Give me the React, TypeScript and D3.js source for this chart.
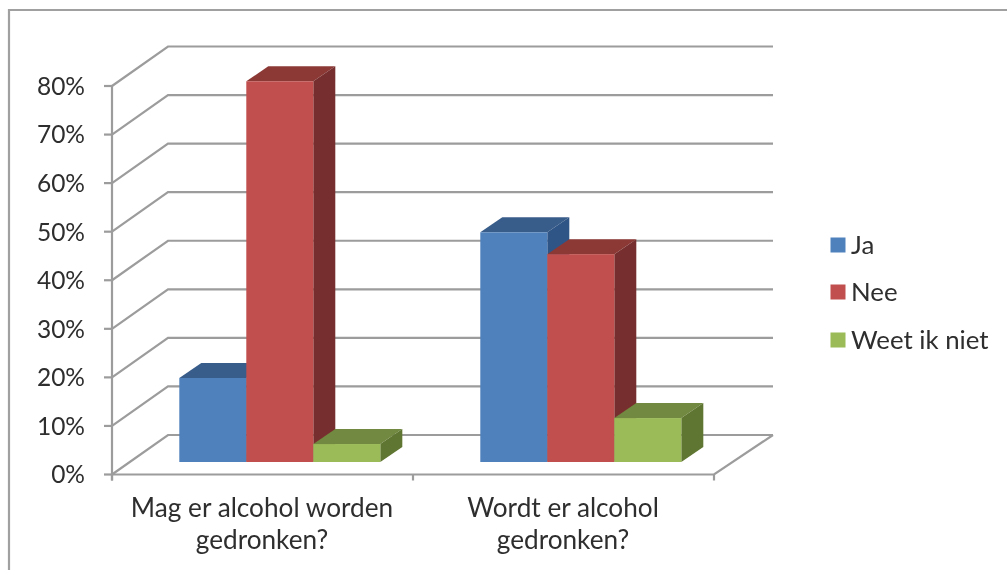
import React from "react";
import * as d3 from "d3";

const categories = [["Mag er alcohol worden", "gedronken?"], ["Wordt er alcohol", "gedronken?"]];
const seriesNames = ["Ja", "Nee", "Weet ik niet"];
const ja = [17.3, 47.3];
const nee = [78.4, 42.8];
const weetIkNiet = [3.7, 9.05];
const yTicks = [0, 10, 20, 30, 40, 50, 60, 70, 80];
const front = ["#4f81bd", "#c0504d", "#9bbb59"];
const top = ["#385d8a", "#8c3836", "#71893f"];
const side = ["#2f5585", "#772f2d", "#5f7530"];

const W = 1007, H = 570;
const left = 112, right = 714, y0 = 474.5, y80 = 86;
const wallDx = 56, wallDy = -39.5;
const barDx = 17.3, barDy = -12.5, depthDx = 22, depthDy = -15;
const axis = "#9c9c9c";
const text = "#2e2e2e";

export default function App() {
  const y = d3.scaleLinear().domain([0, 80]).range([y0, y80]);
  const x = d3.scaleBand<number>().domain([0, 1]).range([left + barDx, right + barDx]);
  const groupPad = 50;
  const inner = d3.scaleBand<number>().domain([0, 1, 2]).range([0, x.bandwidth() - 2 * groupPad]);
  const series = [ja, nee, weetIkNiet];
  const pts = (p: number[][]) => d3.line()(p as [number, number][]) + "Z";
  const legendY = [245, 292, 340];
  const bars: { s: number; c: number; v: number }[] = [];
  [0, 1].forEach((c) => [0, 1, 2].forEach((s) => bars.push({ s, c, v: series[s][c] })));
  const catTicks = [left, left + (right - left) / 2, right];

  return (
    <svg width={W} height={H} viewBox={`0 0 ${W} ${H}`} style={{ position: "fixed", left: 0, top: 0, background: "#fff" }}
      fontFamily="Lato, Carlito, sans-serif">
      <defs>
        <filter id="soft" x="-5%" y="-5%" width="110%" height="110%"><feGaussianBlur stdDeviation="0.5" /></filter>
      </defs>
      <g filter="url(#soft)">
        <path d={`M9 570V10H1007`} fill="none" stroke="#a0a0a0" strokeWidth={2.2} />
        {yTicks.map((t) => (
          <g key={t}>
            <path d={`M${left} ${y(t)}L${left + wallDx} ${y(t) + wallDy}H773`} fill="none" stroke={axis} strokeWidth={2.2} />
            <line x1={left - 8} x2={left} y1={y(t)} y2={y(t)} stroke={axis} strokeWidth={2.2} />
            <text x={85} y={y(t)} dy="0.36em" textAnchor="end" fontSize={24.5} fill={text}>{t}%</text>
          </g>
        ))}
        <line x1={left} x2={left} y1={y80} y2={y0 + 6} stroke={axis} strokeWidth={2.2} />
        <path d={`M${left} ${y0}H${right}L773 ${y0 + wallDy}`} fill="none" stroke={axis} strokeWidth={2.2} />
        {catTicks.map((t) => <line key={t} x1={t} x2={t} y1={y0} y2={y0 + 6} stroke={axis} strokeWidth={2.2} />)}
        {bars.map(({ s, c, v }) => {
          const xl = x(c)! + groupPad + inner(s)!;
          const xr = xl + inner.bandwidth();
          const yb = y(0) + barDy;
          const yt = y(v) + barDy;
          return (
            <g key={`${c}-${s}`}>
              <path d={pts([[xl, yt], [xl + depthDx, yt + depthDy], [xr + depthDx, yt + depthDy], [xr, yt]])} fill={top[s]} />
              <path d={pts([[xr, yt], [xr + depthDx, yt + depthDy], [xr + depthDx, yb + depthDy], [xr, yb]])} fill={side[s]} />
              <rect x={xl} y={yt} width={xr - xl} height={yb - yt} fill={front[s]} />
            </g>
          );
        })}
        {categories.map((lines, c) => lines.map((l, i) => (
          <text key={l + c} x={c === 0 ? 262 : 563} y={516.5 + i * 32} textAnchor="middle" fontSize={26.2} fill={text}>{l}</text>
        )))}
        {seriesNames.map((n, i) => (
          <g key={n}>
            <rect x={830.5} y={legendY[i] - 7.5} width={15} height={15} fill={front[i]} />
            <text x={851} y={legendY[i]} dy="0.36em" fontSize={25.8} fill={text}>{n}</text>
          </g>
        ))}
      </g>
    </svg>
  );
}
